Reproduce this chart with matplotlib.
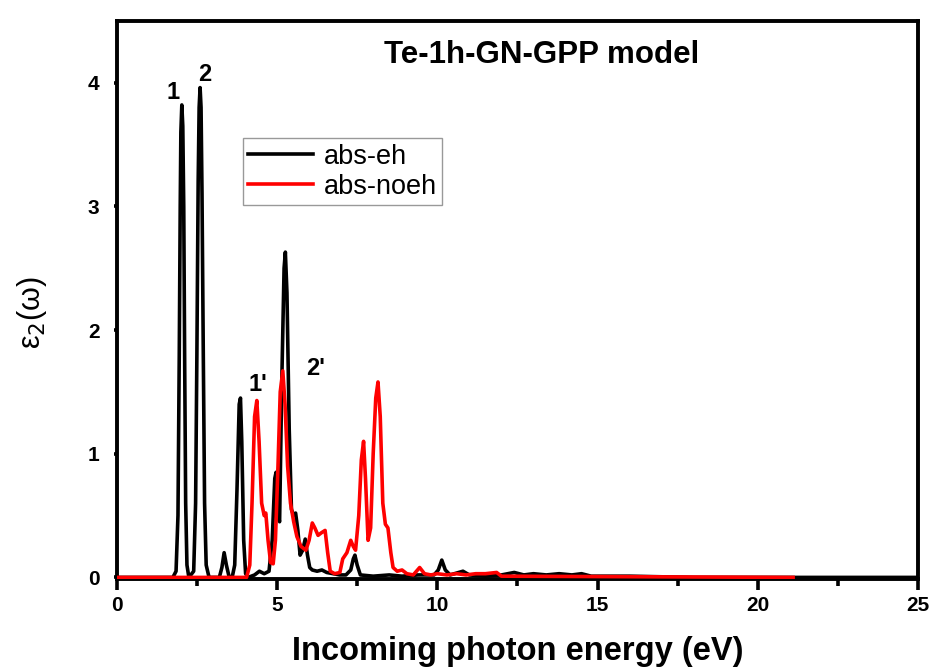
import matplotlib.pyplot as plt
from matplotlib.ticker import MultipleLocator

plt.rcParams['font.family'] = ['Liberation Sans', 'DejaVu Sans']

# ---------------- spectra (energy in eV, eps2) ----------------
e_eh = [0.0, 1.75, 1.85, 1.91, 1.95, 1.98, 2.0, 2.03, 2.06, 2.09, 2.12, 2.15,
        2.19, 2.25, 2.4, 2.46, 2.5, 2.54, 2.57, 2.6, 2.63, 2.66, 2.7, 2.74,
        2.79, 2.88, 3.2, 3.28, 3.35, 3.42, 3.5, 3.6, 3.68, 3.75, 3.82, 3.86,
        3.9, 3.96, 4.02, 4.1, 4.3, 4.45, 4.6, 4.75, 4.85, 4.93, 4.97, 5.03,
        5.08, 5.15, 5.22, 5.26, 5.31, 5.38, 5.45, 5.52, 5.58, 5.65, 5.72, 5.8,
        5.88, 5.95, 6.02, 6.1, 6.25, 6.4, 6.55, 6.75, 6.95, 7.15, 7.3, 7.38,
        7.43, 7.5, 7.6, 8.0, 8.5, 8.9, 9.4, 9.9, 10.03, 10.14, 10.25, 10.4,
        10.8, 11.0, 11.5, 12.0, 12.4, 12.7, 13.0, 13.4, 13.8, 14.2, 14.5, 14.8,
        16.0, 18.0, 25.0]
eps_eh = [0.0, 0.0, 0.05, 0.5, 1.8, 3.0, 3.6, 3.82, 3.65, 3.0, 1.7, 0.6,
          0.1, 0.0, 0.05, 0.6, 1.8, 3.2, 3.8, 3.96, 3.8, 3.1, 1.8, 0.6,
          0.1, 0.0, 0.0, 0.08, 0.2, 0.1, 0.01, 0.0, 0.1, 0.7, 1.4, 1.45,
          1.1, 0.3, 0.03, 0.0, 0.02, 0.05, 0.03, 0.05, 0.3, 0.8, 0.85, 0.5,
          0.45, 1.6, 2.5, 2.63, 2.3, 1.2, 0.55, 0.5, 0.52, 0.38, 0.18, 0.22,
          0.31, 0.18, 0.08, 0.06, 0.05, 0.06, 0.04, 0.03, 0.02, 0.02, 0.06, 0.15,
          0.18, 0.1, 0.02, 0.01, 0.02, 0.01, 0.02, 0.02, 0.06, 0.14, 0.06, 0.02,
          0.05, 0.02, 0.01, 0.02, 0.04, 0.02, 0.03, 0.02, 0.03, 0.02, 0.03, 0.01,
          0.01, 0.0, 0.0]

e_noeh = [0.0, 4.05, 4.15, 4.22, 4.3, 4.37, 4.44, 4.52, 4.6, 4.65, 4.72, 4.8,
          4.88, 4.95, 5.03, 5.1, 5.18, 5.25, 5.33, 5.42, 5.52, 5.62, 5.75, 5.9,
          6.0, 6.1, 6.18, 6.28, 6.38, 6.5, 6.58, 6.66, 6.8, 6.96, 7.05, 7.18,
          7.3, 7.38, 7.45, 7.55, 7.63, 7.7, 7.76, 7.84, 7.92, 8.0, 8.08, 8.15,
          8.22, 8.3, 8.38, 8.46, 8.55, 8.62, 8.75, 8.9, 9.05, 9.25, 9.45, 9.6,
          9.8, 10.0, 10.3, 10.6, 10.9, 11.2, 11.5, 11.85, 12.0, 21.1]
eps_noeh = [0.0, 0.0, 0.1, 0.6, 1.3, 1.43, 1.1, 0.6, 0.5, 0.52, 0.3, 0.12,
            0.11, 0.3, 0.9, 1.5, 1.67, 1.4, 0.9, 0.6, 0.45, 0.33, 0.25, 0.22,
            0.3, 0.44, 0.4, 0.34, 0.36, 0.38, 0.2, 0.05, 0.03, 0.04, 0.15, 0.2,
            0.3, 0.25, 0.22, 0.5, 0.95, 1.1, 0.8, 0.3, 0.4, 1.0, 1.45, 1.58,
            1.3, 0.6, 0.43, 0.4, 0.2, 0.08, 0.05, 0.06, 0.03, 0.02, 0.08, 0.03,
            0.02, 0.03, 0.02, 0.03, 0.02, 0.03, 0.03, 0.04, 0.01, 0.0]

# peak labels
peak_labels = ['1', '2', "1'", "2'"]
peak_label_x = [1.75, 2.75, 4.4, 6.2]
peak_label_y = [3.92, 4.07, 1.56, 1.69]

fig = plt.figure(figsize=(9.34, 6.72), dpi=100)
ax = fig.add_axes([0.125, 0.138, 0.858, 0.831])

ax.plot(e_eh, eps_eh, color='black', lw=2.6, label='abs-eh', zorder=2)
ax.plot(e_noeh, eps_noeh, color='red', lw=2.6, label='abs-noeh', zorder=3)

for lab, lx, ly in zip(peak_labels, peak_label_x, peak_label_y):
    ax.text(lx, ly, lab, fontsize=17, fontweight='bold', ha='center', va='center')

ax.text(13.26, 4.22, 'Te-1h-GN-GPP model', fontsize=22.5, fontweight='bold',
        ha='center', va='center')

ax.set_xlim(0, 25)
ax.set_ylim(-0.015, 4.5)
ax.xaxis.set_major_locator(MultipleLocator(5))
ax.xaxis.set_minor_locator(MultipleLocator(2.5))
ax.yaxis.set_major_locator(MultipleLocator(1))

for sp in ax.spines.values():
    sp.set_linewidth(2.8)
ax.tick_params(which='major', direction='out', length=8, width=2.6, labelsize=15, pad=4)
ax.tick_params(which='minor', direction='out', length=5, width=2.6)
ax.tick_params(axis='y', which='major', length=2.5, pad=10)
for lbl in ax.get_xticklabels() + ax.get_yticklabels():
    lbl.set_fontweight('bold')

ax.set_xlabel('Incoming photon energy (eV)', fontsize=23.5, fontweight='bold', labelpad=15)
ax.set_ylabel('ε$_2$(ω)', fontsize=22)
ax.yaxis.set_label_coords(-0.085, 0.477)

leg = ax.legend(loc='upper left', bbox_to_anchor=(0.157, 0.79), fontsize=19.5,
                frameon=True, fancybox=False, borderaxespad=0, handlelength=2.4,
                borderpad=0.2, labelspacing=0.15, handletextpad=0.4)
leg.get_frame().set_edgecolor('#808080')
leg.get_frame().set_linewidth(1.0)

fig.savefig('out.png', dpi=100)
